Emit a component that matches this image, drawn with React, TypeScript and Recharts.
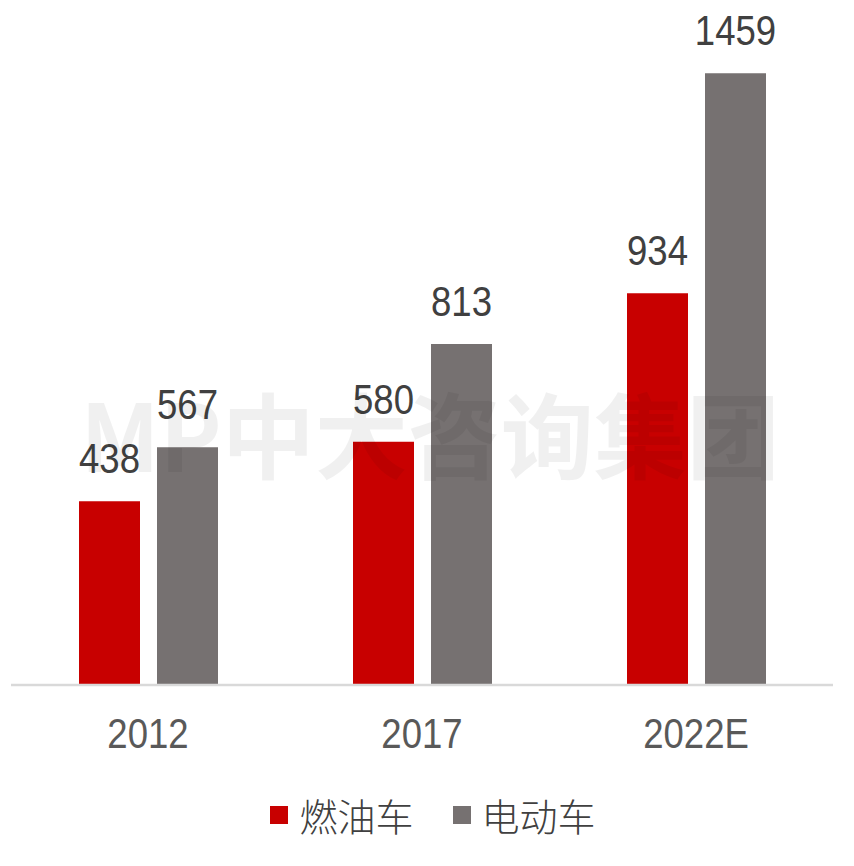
import { BarChart, Bar, XAxis, YAxis, Legend, LabelList } from 'recharts';

const years = ['2012', '2017', '2022E'];
const fuelCars = [438, 580, 934];
const electricCars = [567, 813, 1459];
const seriesNames = ['燃油车', '电动车'];
const seriesColors = ['#c80000', '#767171'];

const chartData = years.map((year, i) => ({
  year,
  fuel: fuelCars[i],
  electric: electricCars[i],
}));

const numFont = '"Liberation Sans", sans-serif';
const cjkFont = '"Noto Sans CJK SC", sans-serif';
// the original digits are narrower than any installed face, so squeeze them a bit
const squeeze = 0.85;

function YearTick(props: any) {
  const { x, y, payload } = props;
  return (
    <text
      transform={`translate(${x},${y + 63}) scale(${squeeze},1)`}
      textAnchor="middle"
      fill="#595959"
      fontSize={43}
      fontFamily={numFont}
    >
      {payload.value}
    </text>
  );
}

function ValueLabel(props: any) {
  const { x, y, width, value } = props;
  return (
    <text
      transform={`translate(${x + width / 2},${y - 28}) scale(${squeeze},1)`}
      textAnchor="middle"
      fill="#404040"
      fontSize={43}
      fontFamily={numFont}
    >
      {value}
    </text>
  );
}

function ChartLegend() {
  return (
    <div
      style={{
        height: 60,
        display: 'flex',
        alignItems: 'center',
        justifyContent: 'center',
        paddingLeft: 22,
        boxSizing: 'border-box',
      }}
    >
      {seriesNames.map((name, i) => (
        <div key={name} style={{ display: 'flex', alignItems: 'center', marginLeft: i ? 39 : 0 }}>
          <div style={{ width: 18, height: 18, backgroundColor: seriesColors[i], marginRight: 11 }} />
          <span style={{ fontFamily: cjkFont, fontWeight: 300, fontSize: 38, color: '#404040', lineHeight: '60px' }}>
            {name}
          </span>
        </div>
      ))}
    </div>
  );
}

export default function App() {
  return (
    <div style={{ position: 'absolute', left: 0, top: 0, width: 854, height: 866, background: '#fff' }}>
      <BarChart
        width={854}
        height={866}
        data={chartData}
        margin={{ top: 14, right: 21, left: 11, bottom: 21 }}
        barSize={61}
        barGap={17}
      >
        <XAxis
          dataKey="year"
          height={100}
          tickLine={false}
          tickSize={0}
          tickMargin={0}
          axisLine={{ stroke: '#d9d9d9', strokeWidth: 2.5 }}
          tick={<YearTick />}
          interval={0}
        />
        <YAxis hide domain={[0, 1600]} />
        <Legend verticalAlign="bottom" content={<ChartLegend />} />
        <Bar dataKey="fuel" name={seriesNames[0]} fill={seriesColors[0]} isAnimationActive={false}>
          <LabelList dataKey="fuel" content={<ValueLabel />} />
        </Bar>
        <Bar dataKey="electric" name={seriesNames[1]} fill={seriesColors[1]} isAnimationActive={false}>
          <LabelList dataKey="electric" content={<ValueLabel />} />
        </Bar>
      </BarChart>
      <svg width={854} height={866} style={{ position: 'absolute', left: 0, top: 0, pointerEvents: 'none' }}>
        <text
          x={430}
          y={472}
          textAnchor="middle"
          fontFamily={cjkFont}
          fontWeight={700}
          fontSize={93}
          fill="rgba(0,0,0,0.06)"
        >
          MP中大咨询集团
        </text>
      </svg>
    </div>
  );
}
